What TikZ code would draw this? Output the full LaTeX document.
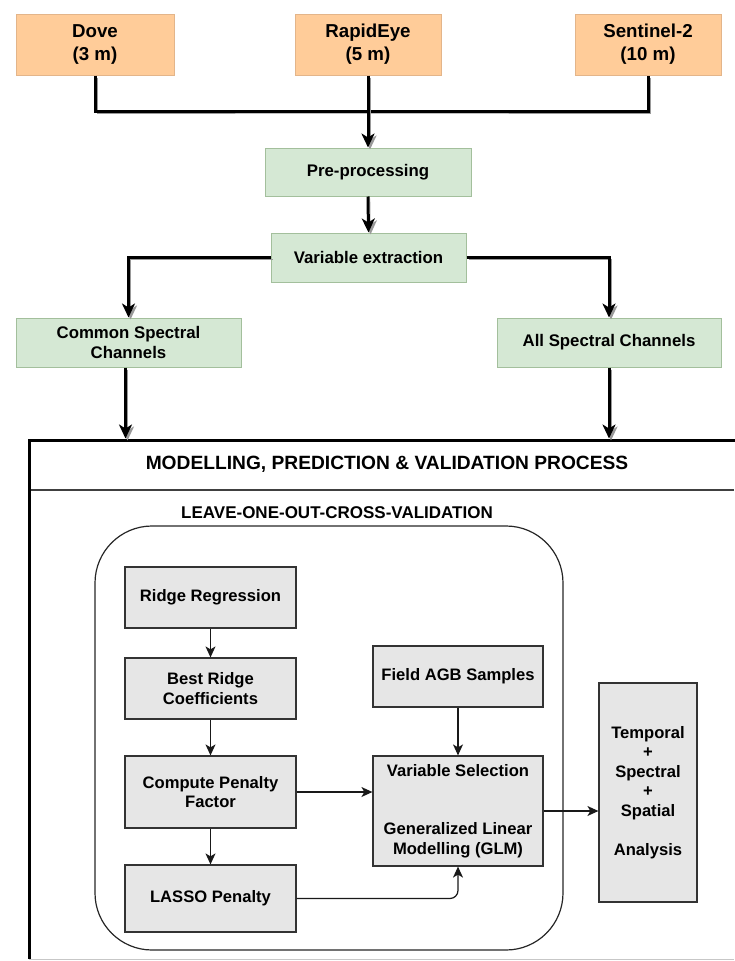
\documentclass[tikz,border=0pt]{standalone}
\usepackage{fontspec}
\setmainfont{Liberation Sans}
\usetikzlibrary{arrows.meta,calc}
\definecolor{orfill}{HTML}{FFCC99}
\definecolor{ordraw}{HTML}{E3B58A}
\definecolor{grfill}{HTML}{D5E8D4}
\definecolor{grdraw}{HTML}{A3BF9C}
\definecolor{gyfill}{HTML}{E6E6E6}
\definecolor{gydraw}{HTML}{333333}
\begin{document}
\begin{tikzpicture}[x=1pt,y=-1pt,
  srcbox/.style={draw=ordraw, fill=orfill, line width=1pt, inner sep=0pt, align=center,
    font=\bfseries\fontsize{18.7}{23}\selectfont, minimum height=61pt},
  greenbox/.style={draw=grdraw, fill=grfill, line width=1pt, inner sep=0pt, align=center,
    font=\bfseries\fontsize{16.8}{20}\selectfont, minimum height=49pt},
  graybox/.style={draw=gydraw, fill=gyfill, line width=1.2pt, inner sep=0pt, align=center,
    font=\bfseries\fontsize{16.6}{19.5}\selectfont},
  shadowed/.style={preaction={draw=black!40, transform canvas={xshift=2pt,yshift=-2pt}}},
  bigline/.style={line width=3pt, draw=black, shadowed},
  bigflow/.style={bigline, -{Stealth[length=14pt,width=13pt,inset=4pt]}},
  thinflow/.style={line width=1.2pt, draw=black!90, -{Stealth[length=11pt,width=10pt,inset=3pt]}}
]
\useasboundingbox (0,0) rectangle (734,961);

% source boxes
\node[srcbox, minimum width=158pt] (dove) at (95,44.5) {Dove\\(3 m)};
\node[srcbox, minimum width=146pt] (rapid) at (368,44.5) {RapidEye\\(5 m)};
\node[srcbox, minimum width=146pt] (sent) at (648,44.5) {Sentinel-2\\(10 m)};

% green boxes
\node[greenbox, minimum width=206pt, minimum height=48pt] (pre) at (368,172) {Pre-processing};
\node[greenbox, minimum width=195pt] (varex) at (368.5,257.5) {Variable extraction};
\node[greenbox, minimum width=225pt] (common) at (128.5,342.5) {Common Spectral\\Channels};
\node[greenbox, minimum width=224pt] (allsp) at (609,342.5) {All Spectral Channels};

% big process box
\draw[line width=1pt, black!22] (29,959.5) -- (734,959.5);
\draw[line width=3pt] (29,959) -- (29,440) -- (736,440);
\coordinate (bigtop) at (0,438.5);
\draw[line width=1.2pt, black!75] (30.5,490) -- (734,490);
\node[font=\bfseries\fontsize{19.2}{22}\selectfont] (title) at (387,464) {MODELLING, PREDICTION \& VALIDATION PROCESS};
\node[font=\bfseries\fontsize{17}{20}\selectfont] (loocv) at (337,513) {LEAVE-ONE-OUT-CROSS-VALIDATION};
\node[draw=black!85, line width=1.2pt, rounded corners=57pt, minimum width=468pt, minimum height=424pt, inner sep=0pt] (loop) at (329,738) {};

% gray boxes
\node[graybox, minimum width=171pt, minimum height=61pt] (ridge) at (210.5,597.5) {Ridge Regression};
\node[graybox, minimum width=171pt, minimum height=61pt] (best) at (210.5,688.5) {Best Ridge\\Coefficients};
\node[graybox, minimum width=171pt, minimum height=72pt] (compute) at (210.5,792) {Compute Penalty\\Factor};
\node[graybox, minimum width=171pt, minimum height=67pt] (lasso) at (210.5,898.5) {LASSO Penalty};
\node[graybox, minimum width=170pt, minimum height=61pt] (field) at (458,676.5) {Field AGB Samples};
\node[graybox, minimum width=170pt, minimum height=110pt] (varsel) at (458,811) {Variable Selection\\[39pt]Generalized Linear\\Modelling (GLM)};
\node[graybox, minimum width=98pt, minimum height=219pt] (temp) at (648,792.5) {Temporal\\+\\Spectral\\+\\Spatial\\[19.5pt]Analysis};

% thick connectors
\coordinate (bus) at (368,111);
\draw[bigline] (dove.south) |- (bus) -| (sent.south);
\draw[bigflow] (rapid.south) -- (pre.north);
\draw[bigflow] (pre.south) -- (varex.north);
\draw[bigflow] (varex.west) -| (common.north);
\draw[bigflow] (varex.east) -| (allsp.north);
\draw[bigflow] ([xshift=-3pt]common.south) -- ([xshift=-3pt]common.south |- bigtop);
\draw[bigflow] (allsp.south) -- (allsp.south |- bigtop);

% thin connectors
\draw[thinflow] (ridge.south) -- (best.north);
\draw[thinflow] (best.south) -- (compute.north);
\draw[thinflow] (compute.south) -- (lasso.north);
\draw[thinflow] (compute.east) -- (compute.east -| varsel.west);
\draw[thinflow] (field.south) -- (varsel.north);
\draw[thinflow, rounded corners=8pt] (lasso.east) -| (varsel.south);
\draw[thinflow] (varsel.east) -- (varsel.east -| temp.west);
\end{tikzpicture}
\end{document}
